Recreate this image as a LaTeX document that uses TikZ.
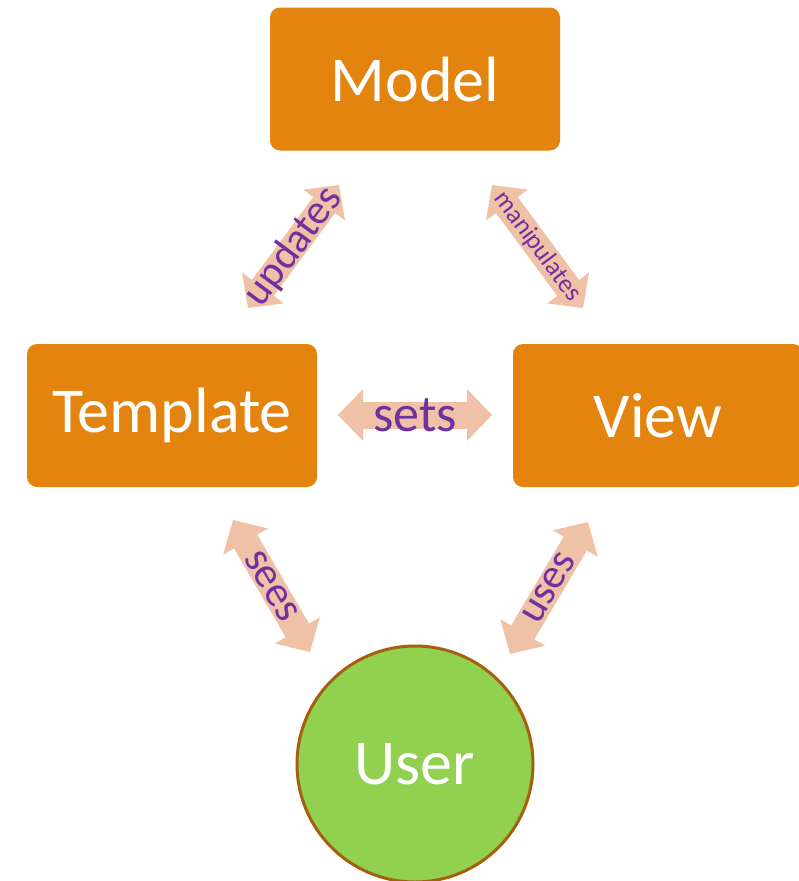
\documentclass[tikz,border=0pt]{standalone}
\usepackage{fontspec}
\setmainfont{Carlito}
\usetikzlibrary{arrows.meta}
\definecolor{boxorange}{HTML}{E3840F}
\definecolor{arrowpeach}{HTML}{EFC1A7}
\definecolor{labelpurple}{HTML}{7030A0}
\definecolor{usergreen}{HTML}{92D050}
\definecolor{userborder}{HTML}{A5600F}
\begin{document}
\begin{tikzpicture}[x=1pt,y=-1pt,
  box/.style={fill=boxorange, rounded corners=10pt, minimum width=290pt, minimum height=143pt, text=white, font=\fontsize{64}{76}\selectfont, inner sep=0pt},
  link/.style={draw=arrowpeach, line width=27pt, {Triangle[length=25pt,width=52pt,line width=0pt]}-{Triangle[length=25pt,width=52pt,line width=0pt]}},
  lbl/.style={text=labelpurple, sloped, midway, inner sep=0pt}
]
\useasboundingbox (0,0) rectangle (799,881);
\node[box] (model) at (415,79) {Model};
\node[box] (template) at (172,415.5) {Template};
\node[box] (view) at (658,415.5) {View};
\node[circle, fill=usergreen, draw=userborder, line width=3pt, minimum size=236pt, inner sep=0pt, text=white, font=\fontsize{64}{76}\selectfont] (user) at (415,764) {User};

\coordinate (upA) at (248,308);
\coordinate (upB) at (339,185);
\coordinate (maA) at (492,185);
\coordinate (maB) at (583,308);
\coordinate (seA) at (338,415);
\coordinate (seB) at (492,415);
\coordinate (sgA) at (233,520);
\coordinate (sgB) at (310,652);
\coordinate (usA) at (510,654);
\coordinate (usB) at (588,522);

\draw[link] (upA) -- node[lbl, font=\fontsize{42}{48}\selectfont] (lupdates) {updates} (upB);
\draw[link] (maA) -- node[lbl, font=\fontsize{26}{30}\selectfont] (lmanip) {manipulates} (maB);
\draw[link] (seA) -- node[lbl, font=\fontsize{52}{60}\selectfont] (lsets) {sets} (seB);
\draw[link] (sgA) -- node[lbl, font=\fontsize{43}{50}\selectfont] (lsees) {sees} (sgB);
\draw[link] (usA) -- node[lbl, font=\fontsize{42}{48}\selectfont] (luses) {uses} (usB);
\end{tikzpicture}
\end{document}
